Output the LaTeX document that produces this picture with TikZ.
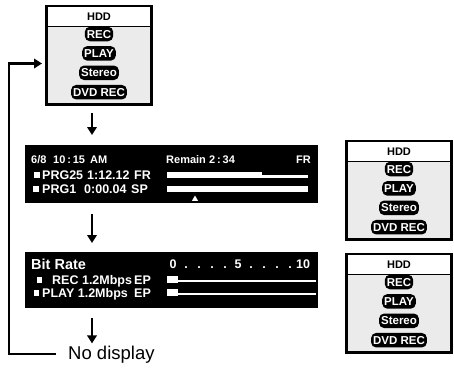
\documentclass[tikz,border=0pt]{standalone}
\usepackage{fontspec}
\setmainfont{Liberation Sans}
\usetikzlibrary{positioning, arrows.meta, shapes.geometric}

\begin{document}
\begin{tikzpicture}[
    x=1pt, y=-1pt,
    node distance=4.5pt,
    menu/.style={rectangle, draw, line width=3pt, fill=black!8,
                 minimum width=105pt, minimum height=98pt, anchor=north west},
    menuhead/.style={rectangle, fill=white, inner sep=0pt,
                     minimum width=102pt, minimum height=19.5pt, anchor=north,
                     font=\bfseries\fontsize{11}{13}\selectfont},
    pill/.style={rectangle, rounded corners=5pt, fill=black, text=white,
                 inner xsep=2pt, inner ysep=0pt, minimum height=14.5pt,
                 text height=8.2pt, text depth=0pt,
                 font=\bfseries\fontsize{11.5}{13}\selectfont},
    screen/.style={rectangle, fill=black, minimum width=293pt,
                   anchor=north west},
    lcd/.style={text=white, inner sep=0pt, anchor=west,
                text height=9pt, text depth=0pt,
                font=\bfseries\fontsize{12.5}{14}\selectfont},
    lcdsmall/.style={lcd, text height=7.9pt,
                     font=\bfseries\fontsize{11}{13}\selectfont},
    dot/.style={rectangle, fill=white, inner sep=0pt, minimum size=5.5pt},
    bar/.style={rectangle, fill=white, inner sep=0pt, anchor=west},
    arrow/.style={-{Triangle[width=9.5pt, length=8pt]}, line width=2.8pt},
    backline/.style={-{Triangle[width=9.5pt, length=8pt]}, line width=2.4pt}
]
\useasboundingbox (0,0) rectangle (454,372);

% HDD menus
\foreach \m/\x/\y in {m1/45/5, m2/345/140, m3/345/253} {
  \node[menu] (\m) at (\x,\y) {};
  \node[menuhead] (\m-hdd) at ([yshift=-1.5pt]\m.north) {HDD};
  \draw[line width=1.5pt] (\m-hdd.south west) -- (\m-hdd.south east);
  \node[pill] (\m-rec) at ([yshift=-29pt]\m.north) {REC};
  \node[pill, below=of \m-rec] (\m-play) {PLAY};
  \node[pill, below=of \m-play] (\m-stereo) {Stereo};
  \node[pill, below=of \m-stereo] (\m-dvd) {DVD REC};
}

% first display
\node[screen, minimum height=58pt] (d1) at (25,145) {};
\node[lcdsmall] (d1-date) at (31,160) {6/8};
\node[lcdsmall] (d1-time) at (53,160) {10\,:\,15};
\node[lcdsmall] (d1-am) at (90,160) {AM};
\node[lcdsmall] (d1-remain) at (166,160) {Remain};
\node[lcdsmall] (d1-left) at (209,160) {2\,:\,34};
\node[lcdsmall] (d1-mode) at (296,160) {FR};

\node[dot] (d1-b1) at (37,175) {};
\node[lcd] (d1-prg25) at (42,175) {PRG25};
\node[lcd] (d1-t25) at (87,175) {1:12.12};
\node[lcd] (d1-fr) at (134,175) {FR};
\node[bar, minimum width=95pt, minimum height=6pt] (d1-bar1) at (167,175) {};
\node[bar, minimum width=46pt, minimum height=3pt] (d1-bar1b) at (262,176) {};

\node[dot] (d1-b2) at (36,189) {};
\node[lcd] (d1-prg1) at (42,189) {PRG1};
\node[lcd] (d1-t1) at (84,189) {0:00.04};
\node[lcd] (d1-sp) at (131,189) {SP};
\node[bar, minimum width=141pt, minimum height=6pt] (d1-bar2) at (167,189) {};
\node[regular polygon, regular polygon sides=3, fill=white, inner sep=0pt,
      minimum size=7pt] (d1-pos) at (195,199) {};

% second display
\node[screen, minimum height=56pt] (d2) at (25,252) {};
\node[lcd, text height=10.4pt, font=\bfseries\fontsize{14.5}{16}\selectfont]
     (d2-rate) at (31,264) {Bit Rate};
\foreach \i/\t in {0/0,1/.,2/.,3/.,4/.,5/5,6/.,7/.,8/.,9/.,10/10}
  \node[lcd, anchor=center] (d2-s\i) at (173+13*\i,264) {\t};

\node[dot] (d2-b1) at (39.5,280) {};
\node[lcd] (d2-rec) at (52,280) {REC 1.2Mbps};
\node[lcd] (d2-ep1) at (134,280) {EP};
\node[bar, minimum width=149pt, minimum height=2.5pt] (d2-bar1) at (167,281) {};
\node[bar, minimum width=11pt, minimum height=7pt] (d2-lvl1) at (167,279) {};

\node[dot] (d2-b2) at (36.5,293) {};
\node[lcd] (d2-play) at (42,293) {PLAY 1.2Mbps};
\node[lcd] (d2-ep2) at (134,293) {EP};
\node[bar, minimum width=149pt, minimum height=2.5pt] (d2-bar2) at (167,294) {};
\node[bar, minimum width=11pt, minimum height=7pt] (d2-lvl2) at (167,292) {};

\node[font=\fontsize{18.5}{22}\selectfont, inner sep=0pt, anchor=base west]
     (nodisp) at (68,359) {No display};

% connectors
\coordinate (col) at (92,0);
\coordinate (back) at (9,0);
\draw[arrow, shorten <=7pt, shorten >=10pt] (col |- m1.south) -- (col |- d1.north);
\draw[arrow, shorten <=11pt, shorten >=9pt] (col |- d1.south) -- (col |- d2.north);
\draw[arrow, shorten <=10pt, shorten >=2pt] (col |- d2.south) -- (col |- nodisp.north);
\draw[backline, shorten <=12pt, shorten >=3pt]
     (nodisp.west) -- (back |- nodisp.west) |- ([yshift=-8pt]m1.west);
\end{tikzpicture}
\end{document}
